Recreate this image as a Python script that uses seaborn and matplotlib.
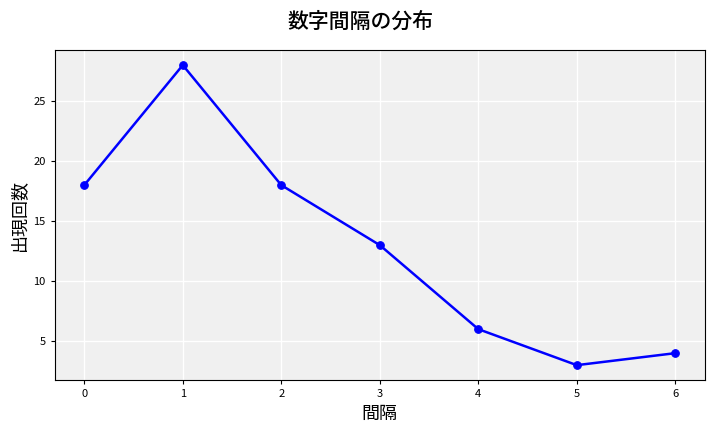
import matplotlib
matplotlib.use("Agg")
import matplotlib.pyplot as plt
import seaborn as sns
import pandas as pd

gaps = [0, 1, 2, 3, 4, 5, 6]
counts = [18, 28, 18, 13, 6, 3, 4]

sns.set_style("whitegrid")
plt.rcParams['font.family'] = ['Noto Sans CJK JP', 'DejaVu Sans']
plt.rcParams['text.color'] = 'black'
plt.rcParams['axes.labelcolor'] = 'black'
plt.rcParams['xtick.color'] = 'black'
plt.rcParams['ytick.color'] = 'black'

df = pd.DataFrame({"gap": gaps, "count": counts})
fig = plt.figure(figsize=(7.2, 4.32), dpi=100)
ax = fig.add_axes([0.076, 0.12, 0.903, 0.764])
ax.set_facecolor("#f0f0f0")
sns.lineplot(data=df, x="gap", y="count", ax=ax, color="blue", marker="o",
             markersize=5.5, markeredgecolor="blue", linewidth=1.8)
ax.grid(True, color="white", linewidth=1)
for s in ax.spines.values():
    s.set_color("black"); s.set_linewidth(0.8)
ax.tick_params(axis="both", labelsize=8, length=3, left=True, bottom=True)
ax.set_xlabel("間隔", fontsize=13)
ax.set_ylabel("出現回数", fontsize=13)
fig.suptitle("数字間隔の分布", fontsize=15, fontweight="medium", y=0.975)
fig.savefig("out.png", dpi=100)
